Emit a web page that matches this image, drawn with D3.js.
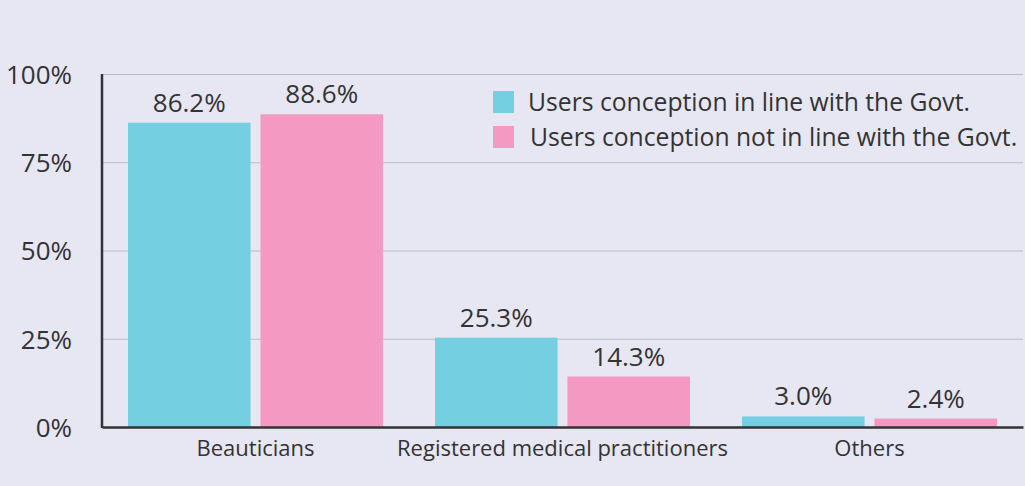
<!DOCTYPE html>
<head>
<meta charset="utf-8">
<script src="https://d3js.org/d3.v7.min.js"></script>
<style>
  body { margin: 0; background: #e7e6f3; }
  text { font-family: "Open Sans", sans-serif; fill: #333; }
</style>
</head>
<body>
<div id="chart"></div>
<script>
    // data
    var categories = ["Beauticians", "Registered medical practitioners", "Others"];
    var seriesNames = ["Users conception in line with the Govt.", "Users conception not in line with the Govt."];
    var inLine = [86.2, 25.3, 3.0];
    var notInLine = [88.6, 14.3, 2.4];
    var yTicks = [0, 25, 50, 75, 100];
    var colors = ["#74cfe1", "#f49ac2"];

    var width = 1025, height = 486;
    var margin = {top: 74, right: 2, bottom: 59, left: 102};
    var innerW = width - margin.left - margin.right,
        innerH = height - margin.top - margin.bottom;

    var svg = d3.select("#chart")
      .append("svg")
        .attr("width", width)
        .attr("height", height)
        .style("background", "#e7e6f3");

    var g = svg.append("g")
        .attr("transform", "translate(" + margin.left + "," + margin.top + ")");

    var x0 = d3.scaleBand()
        .domain(categories)
        .range([0, innerW]);

    var x1 = d3.scaleBand()
        .domain([0, 1])
        .range([26, x0.bandwidth() - 26])
        .paddingInner(0.075);

    var y = d3.scaleLinear()
        .domain([0, 100])
        .range([innerH, 0]);

    // gridlines
    g.append("g")
      .call(d3.axisLeft(y).tickValues(yTicks.slice(1)).tickSize(-innerW).tickFormat(""))
      .call(function(a) { a.select(".domain").remove(); })
      .call(function(a) { a.selectAll(".tick line").attr("stroke", "#bcbcc4").attr("stroke-width", 1.2); });

    // y tick labels
    g.append("g")
      .call(d3.axisLeft(y).tickValues(yTicks).tickSize(0).tickPadding(30)
            .tickFormat(function(d) { return d + "%"; }))
      .call(function(a) { a.select(".domain").remove(); })
      .call(function(a) { a.selectAll("text").style("font-size", "26px").attr("dy", "0.36em"); });

    var rows = categories.map(function(c, i) {
        return {cat: c, vals: [inLine[i], notInLine[i]]};
    });

    var grp = g.selectAll(".grp")
      .data(rows)
      .enter().append("g")
        .attr("transform", function(d) { return "translate(" + x0(d.cat) + ",0)"; });

    grp.selectAll("rect")
      .data(function(d) { return d.vals.map(function(v, k) { return {k: k, v: v}; }); })
      .enter().append("rect")
        .attr("x", function(d) { return x1(d.k); })
        .attr("width", x1.bandwidth())
        .attr("y", function(d) { return y(d.v); })
        .attr("height", function(d) { return innerH - y(d.v); })
        .attr("fill", function(d) { return colors[d.k]; });

    grp.selectAll(".val")
      .data(function(d) { return d.vals.map(function(v, k) { return {k: k, v: v}; }); })
      .enter().append("text")
        .attr("x", function(d) { return x1(d.k) + x1.bandwidth() / 2; })
        .attr("y", function(d) { return y(d.v) - 11; })
        .attr("text-anchor", "middle")
        .style("font-size", "26px")
        .text(function(d) { return d.v.toFixed(1) + "%"; });

    // axes lines
    g.append("g")
      .attr("transform", "translate(0," + innerH + ")")
      .call(d3.axisBottom(x0).tickSize(0).tickPadding(13))
      .call(function(a) { a.select(".domain").attr("stroke", "#333").attr("stroke-width", 2.5); })
      .call(function(a) { a.selectAll("text").style("font-size", "22px").attr("dy", "0.71em"); });

    g.append("line")
      .attr("x1", 0).attr("x2", 0)
      .attr("y1", y(100)).attr("y2", innerH + 1)
      .attr("stroke", "#333").attr("stroke-width", 2.5);

    // legend
    var leg = svg.append("g").attr("transform", "translate(493,91)");
    seriesNames.forEach(function(s, i) {
        var row = leg.append("g").attr("transform", "translate(0," + (i * 35) + ")");
        row.append("rect").attr("width", 21).attr("height", 22).attr("fill", colors[i]);
        row.append("text").attr("x", 35 + i * 2).attr("y", 20)
          .style("font-size", "24.7px").text(s);
    });
</script>
</body>
